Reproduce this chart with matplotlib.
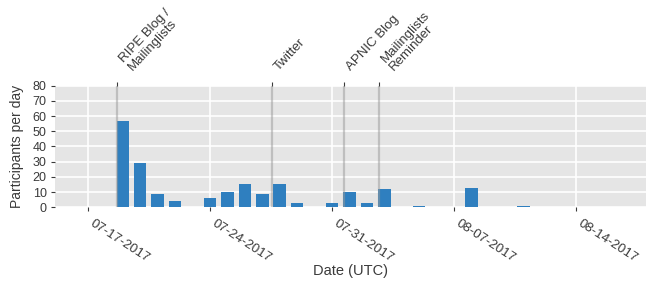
import pandas as pd
import matplotlib
matplotlib.use('Agg')
import matplotlib.pyplot as plt
import matplotlib.dates as mdates

plt.rcParams['font.family'] = ['Liberation Sans', 'DejaVu Sans']

# participants per day
days = ['2017-07-19', '2017-07-20', '2017-07-21', '2017-07-22',
        '2017-07-24', '2017-07-25', '2017-07-26', '2017-07-27', '2017-07-28',
        '2017-07-29', '2017-07-31', '2017-08-01', '2017-08-02', '2017-08-03',
        '2017-08-05', '2017-08-08', '2017-08-11']
participants = [57, 29, 9, 4, 6, 10, 15, 9, 15, 3, 3, 10, 3, 12, 1, 13, 1]

# announcements
event_times = ['2017-07-18 16:20', '2017-07-27 13:00', '2017-07-31 16:30', '2017-08-02 16:20']
event_labels = ['RIPE Blog /\nMailinglists', 'Twitter', 'APNIC Blog', 'Mailinglists\nReminder']

tick_days = ['2017-07-17', '2017-07-24', '2017-07-31', '2017-08-07', '2017-08-14']

txt = '#3a3a3a'

fig = plt.figure(figsize=(6.47, 2.82), dpi=100)
ax = fig.add_axes([0.085, 0.265, 0.913, 0.431])
ax.set_facecolor('#e5e5e5')
for s in ax.spines.values():
    s.set_visible(False)

x = pd.to_datetime(days)
ax.bar(x, participants, width=0.72, color='#2f7fbf', zorder=2)

for t in pd.to_datetime(event_times):
    ax.axvline(t, color='#999999', alpha=0.5, lw=1.6, zorder=3)

ax.set_xlim(pd.Timestamp('2017-07-15 02:40'), pd.Timestamp('2017-08-18 00:00'))
ax.set_ylim(0, 80)
ax.set_yticks(range(0, 81, 10))
ax.set_xticks(pd.to_datetime(tick_days))
ax.xaxis.set_major_formatter(mdates.DateFormatter('%m-%d-%Y'))
ax.grid(True, color='white', lw=1.2, zorder=0)
ax.set_axisbelow(True)
ax.tick_params(axis='both', colors=txt, length=3, width=0.8)
ax.tick_params(axis='x', labelsize=9.5, pad=4)
ax.tick_params(axis='y', labelsize=9, pad=3)
plt.setp(ax.get_xticklabels(), rotation=-33, ha='left')
ax.set_ylabel('Participants per day', fontsize=10, color=txt, labelpad=6)
ax.set_xlabel('Date (UTC)', fontsize=10.5, color=txt, labelpad=0)

ax2 = ax.twiny()
ax2.set_xlim(ax.get_xlim())
for s in ax2.spines.values():
    s.set_visible(False)
ax2.set_xticks(pd.to_datetime(event_times))
ax2.set_xticklabels(event_labels)
ax2.tick_params(axis='x', colors=txt, labelsize=9.5, length=3, width=0.8, pad=6)
plt.setp(ax2.get_xticklabels(), rotation=47, ha='left', linespacing=1.0)

fig.savefig('out.png', dpi=100)
